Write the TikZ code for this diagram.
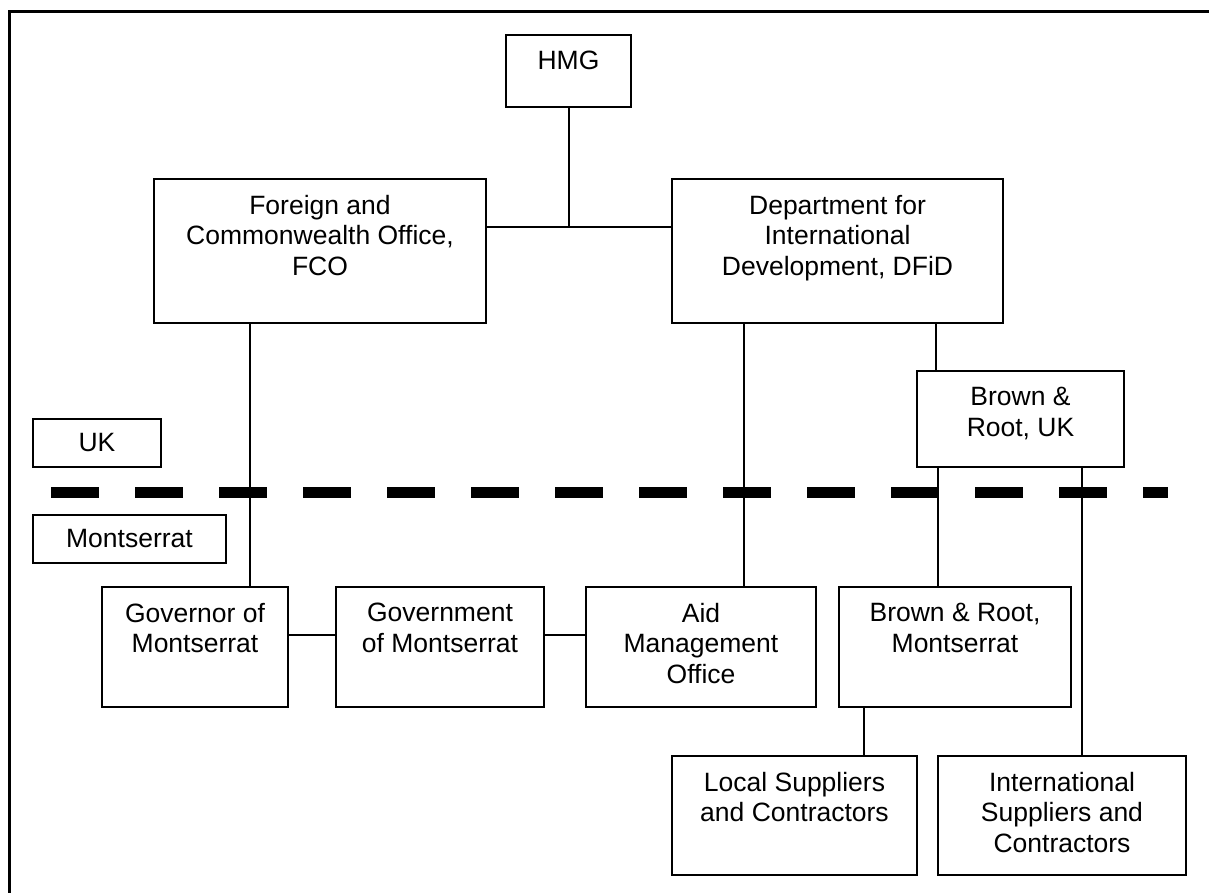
\documentclass[tikz,border=0pt]{standalone}
\usepackage{fontspec}
\setmainfont{Liberation Sans}
\usepackage{tikz}

\tikzset{
    orgbox/.style={draw,line width=2pt,inner sep=0pt,fill=white},
    boxtext/.style={anchor=north,align=center,inner sep=0pt,yshift=-17pt},
    link/.style={line width=2pt}
}

\begin{document}
\begin{tikzpicture}[x=1pt,y=-1pt,font=\fontsize{26.5}{30.5}\selectfont]
    \useasboundingbox (0,0) rectangle (1209,893);
    \draw[line width=3pt] (9.5,893) -- (9.5,11.5) -- (1209,11.5);

    \coordinate (dashstart) at (51,492);
    \coordinate (dashend) at (1168,492);
    \draw[line width=11pt,dash pattern=on 48pt off 36pt] (dashstart) -- (dashend);

    \node[orgbox,minimum width=125,minimum height=72,
        label={[boxtext]north:HMG}] (hmg) at (568.5,71) {};
    \node[orgbox,minimum width=332,minimum height=144,
        label={[boxtext]north:Foreign and\\Commonwealth Office,\\FCO}] (fco) at (320,251) {};
    \node[orgbox,minimum width=331,minimum height=144,
        label={[boxtext]north:Department for\\International\\Development, DFiD}] (dfid) at (837.5,251) {};
    \node[orgbox,minimum width=207,minimum height=96,
        label={[boxtext]north:Brown \&\\Root, UK}] (bruk) at (1020.5,419) {};

    \node[orgbox,minimum width=128,minimum height=48] (uk) at (97,443) {UK};
    \node[orgbox,minimum width=193,minimum height=48] (montserrat) at (129.5,539) {Montserrat};

    \node[orgbox,minimum width=186,minimum height=120,
        label={[boxtext]north:Governor of\\Montserrat}] (governor) at (195,647) {};
    \node[orgbox,minimum width=208,minimum height=120,
        label={[boxtext]north:Government\\of Montserrat}] (government) at (440,647) {};
    \node[orgbox,minimum width=230,minimum height=120,
        label={[boxtext]north:Aid\\Management\\Office}] (aid) at (701,647) {};
    \node[orgbox,minimum width=232,minimum height=120,
        label={[boxtext]north:Brown \& Root,\\Montserrat}] (brmont) at (955,647) {};

    \node[orgbox,minimum width=245,minimum height=119,
        label={[boxtext]north:Local Suppliers\\and Contractors}] (local) at (794.5,815.5) {};
    \node[orgbox,minimum width=248,minimum height=119,
        label={[boxtext]north:International\\Suppliers and\\Contractors}] (intl) at (1062,815.5) {};

    \coordinate (fork) at ([yshift=24pt]fco.east);
    \draw[link] (fork) -- (fork -| dfid.west);
    \draw[link] (hmg.south) -- (hmg.south |- fork);
    \draw[link] ([xshift=-70pt]fco.south) -- ([xshift=-70pt]fco.south |- governor.north);
    \draw[link] ([xshift=-93.5pt]dfid.south) -- ([xshift=-93.5pt]dfid.south |- aid.north);
    \draw[link] ([xshift=98.5pt]dfid.south) -- ([xshift=98.5pt]dfid.south |- bruk.north);
    \draw[link] ([xshift=-82.5pt]bruk.south) -- ([xshift=-82.5pt]bruk.south |- brmont.north);
    \draw[link] ([xshift=61.5pt]bruk.south) -- ([xshift=61.5pt]bruk.south |- intl.north);
    \draw[link] ([xshift=-91pt]brmont.south) -- ([xshift=-91pt]brmont.south |- local.north);
    \draw[link] ([yshift=12pt]governor.east) -- ([yshift=12pt]government.west);
    \draw[link] ([yshift=12pt]government.east) -- ([yshift=12pt]aid.west);
\end{tikzpicture}
\end{document}
